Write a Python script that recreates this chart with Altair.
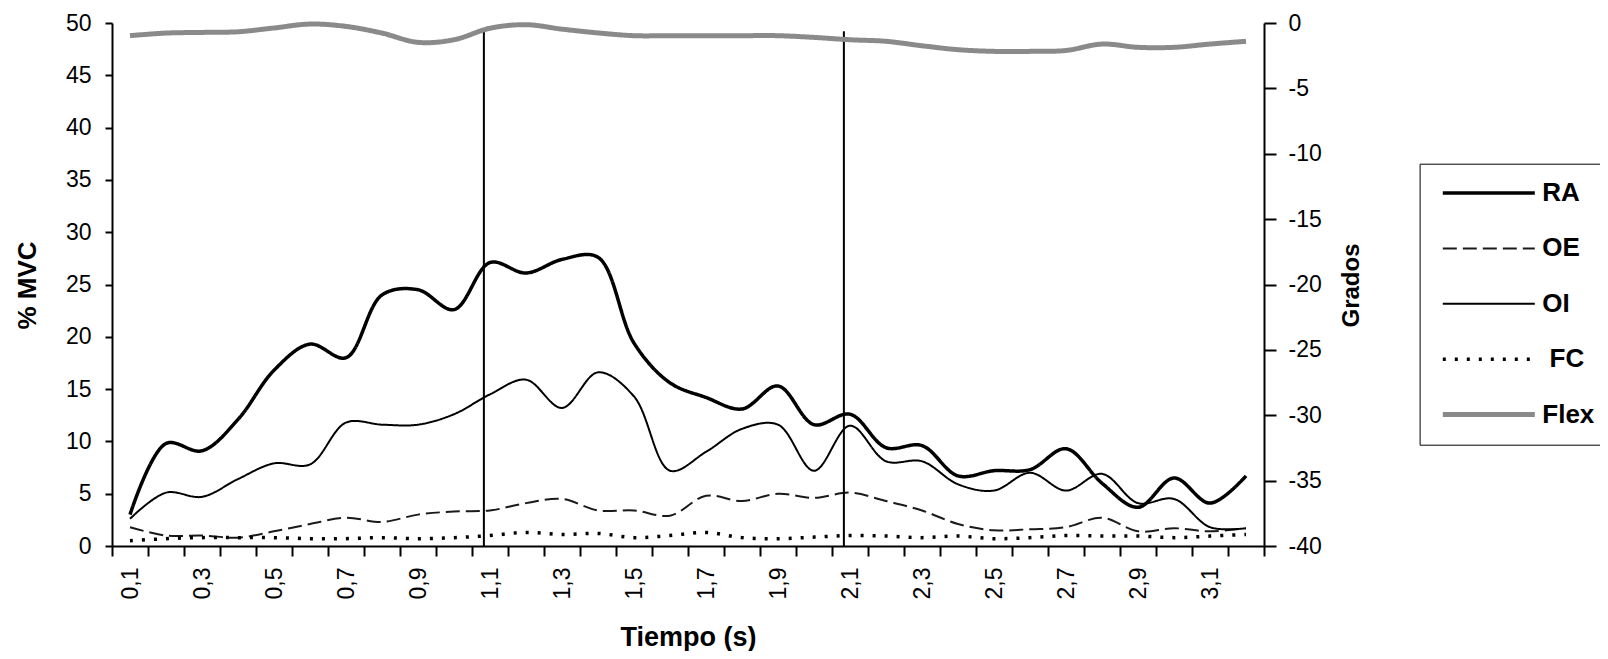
import altair as alt
import pandas as pd

# ---- data ----
tiempo = ["0,1", "0,2", "0,3", "0,4", "0,5", "0,6", "0,7", "0,8", "0,9", "1,0",
          "1,1", "1,2", "1,3", "1,4", "1,5", "1,6", "1,7", "1,8", "1,9", "2,0",
          "2,1", "2,2", "2,3", "2,4", "2,5", "2,6", "2,7", "2,8", "2,9", "3,0",
          "3,1", "3,2"]

ra = [3.0, 9.8, 9.1, 12.1, 16.8, 19.3, 18.0, 24.0, 24.5, 22.6,
      27.1, 26.1, 27.4, 27.6, 19.4, 15.6, 14.2, 13.1, 15.3, 11.6,
      12.6, 9.4, 9.6, 6.7, 7.2, 7.3, 9.3, 6.0, 3.7, 6.5,
      4.1, 6.7]
oe = [1.8, 1.0, 1.0, 0.8, 1.4, 2.1, 2.7, 2.3, 3.0, 3.3,
      3.4, 4.1, 4.5, 3.4, 3.4, 2.9, 4.8, 4.3, 5.0, 4.6,
      5.1, 4.3, 3.4, 2.1, 1.5, 1.6, 1.8, 2.7, 1.4, 1.7,
      1.4, 1.7]
oi = [2.6, 5.1, 4.7, 6.4, 7.9, 7.8, 11.8, 11.6, 11.6, 12.6,
      14.5, 15.9, 13.2, 16.6, 14.3, 7.2, 9.0, 11.2, 11.6, 7.2,
      11.5, 8.1, 8.1, 5.9, 5.3, 7.0, 5.3, 6.9, 4.1, 4.5,
      1.8, 1.7]
fc = [0.5, 0.7, 0.8, 0.8, 0.8, 0.7, 0.7, 0.8, 0.7, 0.8,
      1.0, 1.3, 1.1, 1.2, 0.8, 1.0, 1.3, 0.8, 0.7, 0.85,
      1.0, 0.95, 0.8, 0.95, 0.7, 0.8, 1.0, 0.95, 0.95, 0.8,
      0.95, 1.1]
flex = [-0.97, -0.77, -0.72, -0.67, -0.38, -0.08, -0.26, -0.77, -1.48, -1.28,
        -0.4, -0.13, -0.47, -0.76, -0.97, -0.97, -0.97, -0.97, -0.97, -1.1,
        -1.28, -1.4, -1.74, -2.04, -2.17, -2.17, -2.1, -1.61, -1.86, -1.86,
        -1.61, -1.4]

series = ["RA", "OE", "OI", "FC", "Flex"]
series_colors = ["#000000", "#1a1a1a", "#000000", "#000000", "#8a8a8a"]
series_dash = [[1, 0], [14, 6], [1, 0], [3, 9], [1, 0]]
series_width = [3.5, 2, 2, 3.5, 5]

marcas = ["1,1", "2,1"]
marca_top = [49.4, 49.2]
marca_base = [0, 0]

# ---- tables ----
rows = []
for name, vals in [("RA", ra), ("OE", oe), ("OI", oi), ("FC", fc)]:
    for t, v in zip(tiempo, vals):
        rows.append({"t": t, "serie": name, "v": v})
musc = pd.DataFrame(rows)
flex_df = pd.DataFrame({"t": tiempo, "serie": ["Flex"] * len(tiempo), "v": flex})
marca_df = pd.DataFrame({"t": marcas, "top": marca_top, "base": marca_base})

FONT = "Liberation Sans"
W, H = 1152, 523
NB = "\u00a0"
ZW = "\u200b"

x_scale = alt.Scale(type="band", domain=tiempo, paddingInner=0, paddingOuter=0)
x_axis = alt.Axis(
    title="Tiempo (s)", labelAngle=270, labelAlign="right", labelBaseline="middle",
    tickBand="extent", tickSize=10, labelPadding=11, labelFontSize=23,
    labelExpr="indexof('13579', substring(datum.label, 2, 3)) >= 0 ? datum.label : ''",
    labelOverlap=False, titleFontSize=27, titleFontWeight="bold",
    titleY=91, titleBaseline="middle",
)
y_left_axis = alt.Axis(
    title="% MVC", values=list(range(0, 51, 5)), tickSize=7, labelPadding=14,
    labelFontSize=23, titleFontSize=26, titleFontWeight="bold",
    titleAngle=270, titleX=-85, titleY=262, titleBaseline="middle", titleAlign="center",
    grid=False,
)
y_right_axis = alt.Axis(
    title="Grados", orient="right", values=list(range(-40, 1, 5)), tickSize=12,
    labelPadding=12, labelFontSize=23, labelExpr="'' + datum.value",
    titleFontSize=24, titleFontWeight="bold",
    titleAngle=270, titleX=87, titleY=262, titleBaseline="middle", titleAlign="center",
    grid=False,
)

leg = alt.Legend(
    title=None, orient="none", legendX=1307.6, legendY=140.7,
    symbolType="stroke", symbolSize=8464, clipHeight=30.6, rowPadding=24.4,
    padding=14, symbolOffset=6.7, labelOffset=5,
    labelFont=FONT, labelFontSize=26, labelFontWeight="bold", labelColor="#000000",
    strokeColor="#000000", labelLimit=600,
    labelExpr="(datum.label == 'FC' ? '" + ZW + NB + "' : '') + datum.label",
)

color = alt.Color("serie:N", scale=alt.Scale(domain=series, range=series_colors), legend=leg)
dash = alt.StrokeDash("serie:N", scale=alt.Scale(domain=series, range=series_dash), legend=leg)
swidth = alt.StrokeWidth("serie:N", scale=alt.Scale(type="ordinal", domain=series, range=series_width), legend=leg)

y_left_scale = alt.Scale(domain=[0, 50], nice=False, zero=True)

lines = alt.Chart(musc).mark_line(interpolate="catmull-rom", strokeCap="butt").encode(
    x=alt.X("t:O", sort=tiempo, bandPosition=0.5, scale=x_scale, axis=x_axis),
    y=alt.Y("v:Q", scale=y_left_scale, axis=y_left_axis),
    color=color, strokeDash=dash, strokeWidth=swidth,
    detail="serie:N",
)

rules = alt.Chart(marca_df).mark_rule(color="#000000", strokeWidth=2).encode(
    x=alt.X("t:O", sort=tiempo, bandPosition=0.33, scale=x_scale, axis=x_axis),
    y=alt.Y("top:Q", scale=y_left_scale, axis=y_left_axis),
    y2="base:Q",
)

left = alt.layer(lines, rules)

flex_line = alt.Chart(flex_df).mark_line(interpolate="catmull-rom").encode(
    x=alt.X("t:O", sort=tiempo, bandPosition=0.5, scale=x_scale, axis=x_axis),
    y=alt.Y("v:Q", scale=alt.Scale(domain=[-40, 0], nice=False, zero=False), axis=y_right_axis),
    color=color, strokeDash=dash, strokeWidth=swidth,
)

chart = alt.layer(left, flex_line).resolve_scale(y="independent").properties(
    width=W, height=H,
    padding={"left": 104, "top": 15, "right": 336, "bottom": 105},
    autosize=alt.AutoSizeParams(type="none"),
).configure(font=FONT).configure_view(stroke=None).configure_axis(
    domainColor="#000000", domainWidth=2, tickColor="#000000", tickWidth=2,
    labelColor="#000000", titleColor="#000000", labelFont=FONT, titleFont=FONT,
)

chart.save("out.html", embed_options={"renderer": "svg", "actions": False})
